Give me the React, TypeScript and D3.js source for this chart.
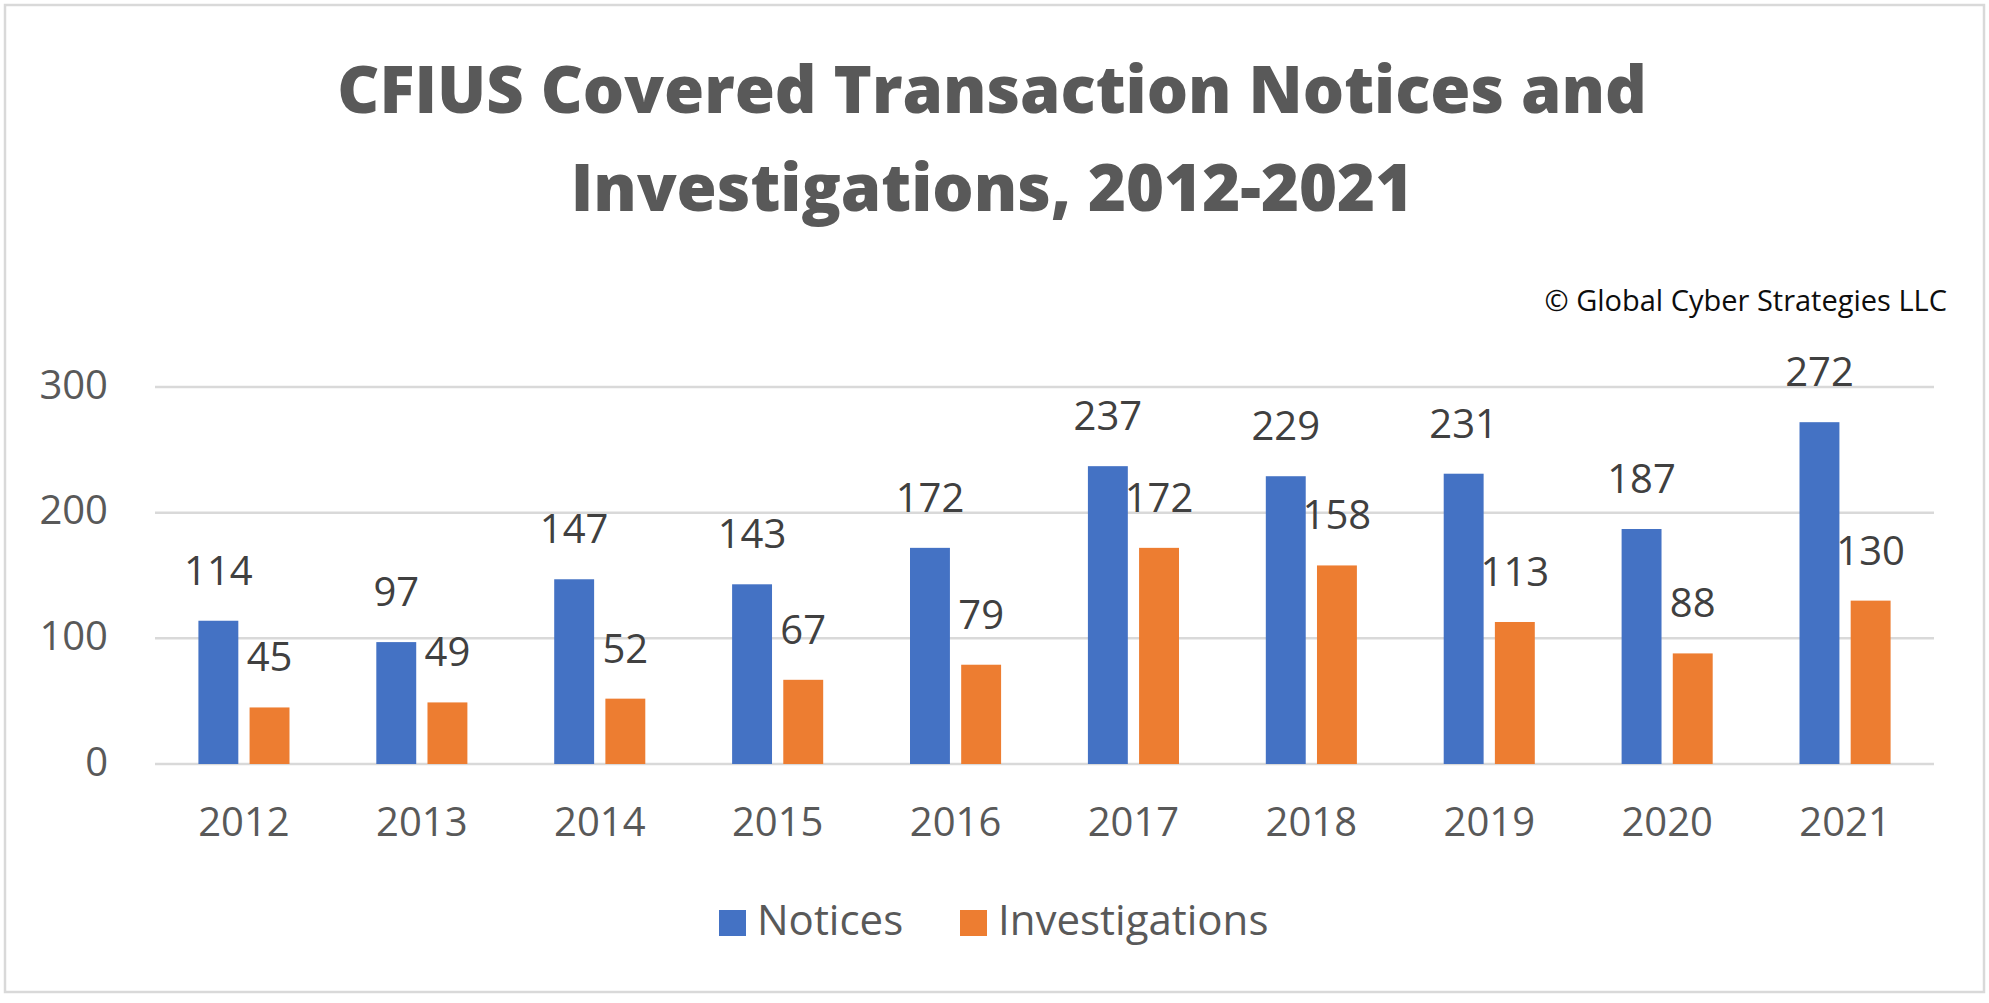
import { useEffect, useRef } from 'react';
import * as d3 from 'd3';

const years = ['2012', '2013', '2014', '2015', '2016', '2017', '2018', '2019', '2020', '2021'];
const seriesNames = ['Notices', 'Investigations'];
const notices = [114, 97, 147, 143, 172, 237, 229, 231, 187, 272];
const investigations = [45, 49, 52, 67, 79, 172, 158, 113, 88, 130];
const yTicks = [0, 100, 200, 300];
const seriesColors = ['#4472C4', '#ED7D31'];
const titleLines = ['CFIUS Covered Transaction Notices and', 'Investigations, 2012-2021'];
const credit = '\u00A9 Global Cyber Strategies LLC';

const W = 1989;
const H = 1003;
const FONT = "'Open Sans', sans-serif";

const App: React.FC = () => {
  const ref = useRef<SVGSVGElement | null>(null);

  useEffect(() => {
    if (!ref.current) return;
    const svg = d3.select(ref.current);
    svg.selectAll('*').remove();

    // outer frame
    svg.append('rect')
      .attr('x', 5).attr('y', 5)
      .attr('width', W - 10).attr('height', 987)
      .attr('fill', '#fff')
      .attr('stroke', '#d9d9d9')
      .attr('stroke-width', 2.5);

    // title
    svg.append('g')
      .selectAll('text')
      .data(titleLines)
      .enter().append('text')
      .attr('x', 992)
      .attr('y', (_, i) => 113 + i * 98)
      .attr('text-anchor', 'middle')
      .attr('font-family', FONT)
      .attr('font-weight', 800)
      .attr('font-size', 65)
      .attr('fill', '#595959')
      .text(d => d);

    svg.append('text')
      .attr('x', 1947)
      .attr('y', 311)
      .attr('text-anchor', 'end')
      .attr('font-family', FONT)
      .attr('font-size', 29)
      .attr('fill', '#0d0d0d')
      .text(credit);

    const left = 155, right = 1934, top = 387, bottom = 764;

    const x = d3.scaleBand<string>().domain(years).range([left, right]).padding(0);
    const bw = x.bandwidth();
    const inner = d3.scaleBand<string>()
      .domain(seriesNames)
      .range([bw * 0.244, bw * 0.756])
      .paddingInner(0.22);
    const y = d3.scaleLinear().domain([0, 300]).range([bottom, top]);

    // gridlines
    const grid = svg.append('g').attr('class', 'grid');
    grid.selectAll('line')
      .data(yTicks)
      .enter().append('line')
      .attr('x1', left).attr('x2', right)
      .attr('y1', d => y(d)).attr('y2', d => y(d))
      .attr('stroke', '#d9d9d9')
      .attr('stroke-width', 2.5);

    // y axis labels
    const yAxis = svg.append('g')
      .attr('transform', `translate(${left - 47},0)`)
      .call(d3.axisLeft(y).tickValues(yTicks).tickSize(0).tickPadding(0));
    yAxis.select('.domain').remove();
    yAxis.selectAll('text')
      .attr('font-family', FONT)
      .attr('font-size', 40)
      .attr('fill', '#595959')
      .attr('dy', '0.28em');

    // x axis labels
    const xAxis = svg.append('g')
      .attr('transform', `translate(0,${bottom})`)
      .call(d3.axisBottom(x).tickSize(0).tickPadding(0));
    xAxis.select('.domain').remove();
    xAxis.selectAll('text')
      .attr('font-family', FONT)
      .attr('font-size', 40)
      .attr('fill', '#595959')
      .attr('dy', 0)
      .attr('y', 72);

    const rows = years.map((yr, i) => ({ yr, values: [notices[i], investigations[i]] }));

    const groups = svg.append('g')
      .selectAll('g')
      .data(rows)
      .enter().append('g')
      .attr('transform', d => `translate(${x(d.yr)},0)`);

    groups.selectAll('rect')
      .data(d => d.values.map((v, j) => ({ key: seriesNames[j], v, j })))
      .enter().append('rect')
      .attr('x', d => inner(d.key)!)
      .attr('y', d => y(d.v))
      .attr('width', inner.bandwidth())
      .attr('height', d => bottom - y(d.v))
      .attr('fill', d => seriesColors[d.j]);

    groups.selectAll('text')
      .data(d => d.values.map((v, j) => ({ key: seriesNames[j], v, j })))
      .enter().append('text')
      .attr('x', d => inner(d.key)! + inner.bandwidth() / 2)
      .attr('y', d => y(d.v) - 36)
      .attr('text-anchor', 'middle')
      .attr('font-family', FONT)
      .attr('font-size', 40)
      .attr('fill', '#404040')
      .text(d => d.v);

    // legend
    const legendX = [719, 960];
    const legend = svg.append('g')
      .selectAll('g')
      .data(seriesNames)
      .enter().append('g')
      .attr('transform', (_, i) => `translate(${legendX[i]},910)`);
    legend.append('rect')
      .attr('width', 27).attr('height', 26)
      .attr('fill', (_, i) => seriesColors[i]);
    legend.append('text')
      .attr('x', 38)
      .attr('y', 25)
      .attr('font-family', FONT)
      .attr('font-size', 42)
      .attr('fill', '#595959')
      .text(d => d);
  }, []);

  return (
    <>
      <style>{`body { margin: 0; }`}</style>
      <svg ref={ref} width={W} height={H} style={{ display: 'block' }}></svg>
    </>
  );
};

export default App;
